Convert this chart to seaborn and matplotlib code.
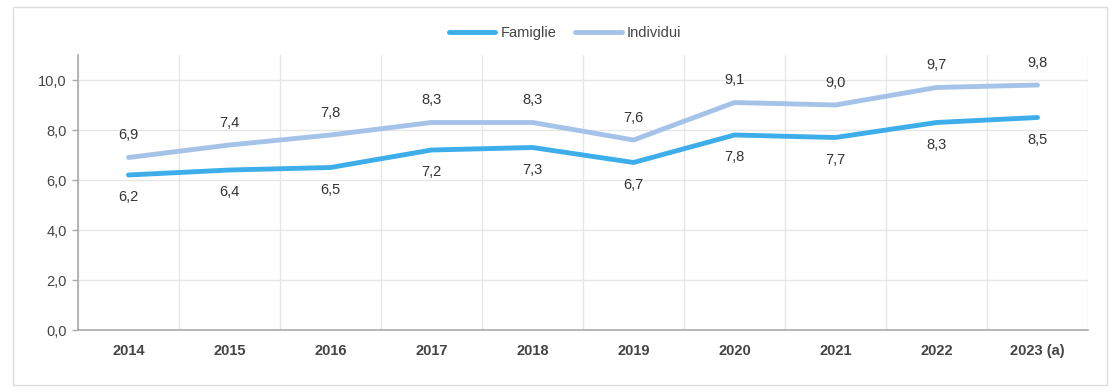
import numpy as np
import pandas as pd
import matplotlib.pyplot as plt
import seaborn as sns
from matplotlib.patches import Rectangle

sns.set_theme(style="white")
plt.rcParams['font.family'] = ['Liberation Sans', 'DejaVu Sans']

years = ['2014', '2015', '2016', '2017', '2018', '2019', '2020', '2021', '2022', '2023 (a)']
famiglie = [6.2, 6.4, 6.5, 7.2, 7.3, 6.7, 7.8, 7.7, 8.3, 8.5]
individui = [6.9, 7.4, 7.8, 8.3, 8.3, 7.6, 9.1, 9.0, 9.7, 9.8]

x = np.arange(len(years))
df = pd.DataFrame({
    'x': np.concatenate([x, x]),
    'valore': famiglie + individui,
    'serie': ['Famiglie'] * len(years) + ['Individui'] * len(years),
})
colors = {'Famiglie': '#3eaeea', 'Individui': '#a5c3e8'}

fig = plt.figure(figsize=(11.18, 3.92), dpi=100)
fig.patches.append(Rectangle((13 / 1118, 7 / 392), 1094 / 1118, 378 / 392,
                             transform=fig.transFigure, fill=False,
                             edgecolor='#dddddd', linewidth=1))
ax = fig.add_axes([78 / 1118, 62 / 392, 1010 / 1118, 275 / 392])

sns.lineplot(data=df, x='x', y='valore', hue='serie', palette=colors,
             linewidth=3.5, ax=ax, legend=False)
for line in ax.lines:
    line.set_solid_capstyle('round')

# data labels: individui above, famiglie below
for i in x:
    ax.annotate(f"{individui[i]:.1f}".replace('.', ','), (i, individui[i]),
                xytext=(0, 16), textcoords='offset points', ha='center',
                va='center', fontsize=10.5, color='#333333')
    ax.annotate(f"{famiglie[i]:.1f}".replace('.', ','), (i, famiglie[i]),
                xytext=(0, -16), textcoords='offset points', ha='center',
                va='center', fontsize=10.5, color='#333333')

ax.set_xlim(-0.5, len(years) - 0.5)
ax.set_ylim(0, 11)
ax.set_yticks(np.arange(0, 11, 2))
ax.set_yticklabels([f"{v:.1f}".replace('.', ',') for v in np.arange(0, 11, 2)],
                   fontsize=10.5, color='#444444')
ax.set_xticks(x)
ax.set_xticklabels(years, fontsize=10.5, fontweight='bold', color='#444444')
ax.set_xticks(np.arange(-0.5, len(years)), minor=True)
ax.tick_params(axis='x', which='major', length=0, pad=10)
ax.tick_params(axis='x', which='minor', length=4, color='#aaaaaa', width=1)
ax.tick_params(axis='y', length=4, color='#aaaaaa', width=1, left=True, pad=4)
ax.set_xlabel('')
ax.set_ylabel('')

ax.grid(axis='y', color='#e6e6e6', linewidth=1)
ax.grid(axis='x', which='minor', color='#e6e6e6', linewidth=1)
ax.set_axisbelow(True)
for s in ['top', 'right']:
    ax.spines[s].set_visible(False)
for s in ['left', 'bottom']:
    ax.spines[s].set_color('#aaaaaa')
    ax.spines[s].set_linewidth(1.2)

# legend
handles = [plt.Line2D([], [], color=colors[k], linewidth=3.5, solid_capstyle='round')
           for k in ['Famiglie', 'Individui']]
fig.legend(handles, ['Famiglie', 'Individui'], loc='center', bbox_to_anchor=(565 / 1118, 1 - 33 / 392),
           ncol=2, frameon=False, fontsize=10.5, handlelength=3.2, handletextpad=0.35,
           columnspacing=1.3, labelcolor='#444444')

plt.savefig('out.png', dpi=100)
